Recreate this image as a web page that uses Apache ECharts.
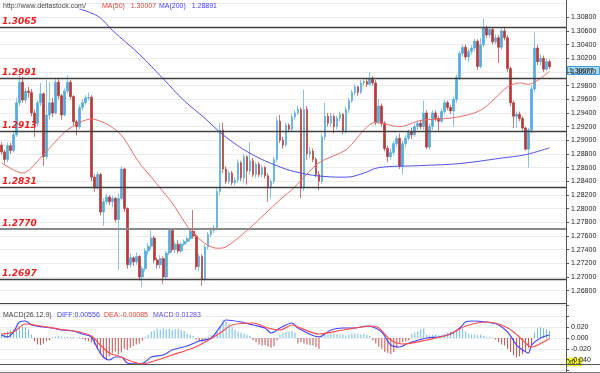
<!DOCTYPE html>
<html><head><meta charset="utf-8">
<script src="https://cdn.jsdelivr.net/npm/echarts@6/dist/echarts.min.js"></script>
<style>html,body{margin:0;padding:0;background:#fff}#c{width:600px;height:373px}</style>
</head><body><div id="c"></div>
<script>
// ---- data ----
const firstOpen = 1.2893;
const closes = [
1.2883,1.2872,1.2892,1.2885,1.2908,1.2955,1.2985,1.2959,1.2972,1.2970,
1.2940,1.2925,1.2955,1.2968,1.2876,1.2937,1.2955,1.2940,1.2985,1.2965,
1.2937,1.2972,1.2985,1.2964,1.2927,1.2920,1.2948,1.2955,1.2962,1.2963,
1.2846,1.2830,1.2850,1.2795,1.2810,1.2817,1.2810,1.2815,1.2784,1.2815,
1.2858,1.2800,1.2718,1.2728,1.2722,1.2730,1.2700,1.2712,1.2738,1.2745,
1.2757,1.2725,1.2718,1.2727,1.2700,1.2735,1.2768,1.2740,1.2748,1.2738,
1.2748,1.2752,1.2756,1.2767,1.2760,1.2715,1.2730,1.2697,1.2744,1.2762,
1.2768,1.2772,1.2825,1.2915,1.2858,1.2840,1.2852,1.2838,1.2842,1.2867,
1.2845,1.2876,1.2855,1.2870,1.2850,1.2865,1.2850,1.2860,1.2848,1.2830,
1.2840,1.2872,1.2928,1.2900,1.2893,1.2922,1.2916,1.2934,1.2940,1.2945,
1.2830,1.2945,1.2880,1.2884,1.2872,1.2850,1.2840,1.2905,1.2935,1.2925,
1.2935,1.2920,1.2932,1.2938,1.2913,1.2945,1.2958,1.2970,1.2978,1.2970,
1.2984,1.2986,1.2982,1.2990,1.2984,1.2927,1.2950,1.2925,1.2888,1.2876,
1.2882,1.2895,1.2903,1.2862,1.2895,1.2903,1.2912,1.2908,1.2920,1.2925,
1.2920,1.2940,1.2890,1.2920,1.2940,1.2932,1.2928,1.2942,1.2955,1.2948,
1.2943,1.2960,1.2992,1.3027,1.3036,1.3022,1.3030,1.3035,1.3045,1.3008,
1.3040,1.3064,1.3054,1.3062,1.3044,1.3050,1.3036,1.3060,1.3050,1.3005,
1.2955,1.2935,1.2938,1.2932,1.2918,1.2887,1.2915,1.2975,1.3035,1.3015,
1.3020,1.3004,1.3015,1.30077];
const highs = [
1.2897,1.2886,1.2897,1.2896,1.2912,1.2962,1.2996,1.2993,1.2976,1.2978,
1.2975,1.2945,1.2958,1.2984,1.2970,1.2988,1.2985,1.2962,1.2990,1.2990,
1.2968,1.2976,1.2995,1.2988,1.2966,1.2930,1.2952,1.2960,1.2966,1.2970,
1.2966,1.2850,1.2854,1.2852,1.2815,1.2822,1.2820,1.2819,1.2817,1.2822,
1.2862,1.2860,1.2802,1.2734,1.2730,1.2736,1.2732,1.2716,1.2742,1.2750,
1.2770,1.2760,1.2728,1.2732,1.2730,1.2738,1.2772,1.2770,1.2752,1.2754,
1.2751,1.2755,1.2759,1.2770,1.2798,1.2763,1.2734,1.2733,1.2748,1.2766,
1.2772,1.2776,1.2830,1.2925,1.2926,1.2862,1.2856,1.2855,1.2846,1.2872,
1.2870,1.2880,1.2878,1.2897,1.2874,1.2868,1.2868,1.2864,1.2862,1.2852,
1.2844,1.2876,1.2935,1.2937,1.2905,1.2926,1.2925,1.2938,1.2944,1.2950,
1.2948,1.2974,1.2950,1.2890,1.2888,1.2875,1.2855,1.2910,1.2955,1.2940,
1.2940,1.2938,1.2936,1.2942,1.2940,1.2949,1.2962,1.2974,1.2982,1.2980,
1.2988,1.2990,1.2990,1.3000,1.2994,1.2988,1.2960,1.2954,1.2928,1.2892,
1.2888,1.2899,1.2907,1.2910,1.2899,1.2908,1.2916,1.2918,1.2924,1.2929,
1.2930,1.2958,1.2944,1.2924,1.2944,1.2944,1.2936,1.2946,1.2959,1.2958,
1.2952,1.2964,1.2996,1.3030,1.3040,1.3040,1.3034,1.3039,1.3049,1.3048,
1.3050,1.3078,1.3068,1.3066,1.3065,1.3055,1.3054,1.3064,1.3066,1.3054,
1.3008,1.2958,1.2942,1.2942,1.2935,1.2920,1.2918,1.2980,1.3058,1.3040,
1.3026,1.3024,1.3020,1.3018];
const lows = [
1.2879,1.2866,1.2868,1.2880,1.2882,1.2905,1.2950,1.2955,1.2954,1.2962,
1.2935,1.2905,1.2920,1.2950,1.2862,1.2872,1.2930,1.2934,1.2938,1.2960,
1.2930,1.2935,1.2968,1.2960,1.2922,1.2907,1.2916,1.2944,1.2952,1.2958,
1.2840,1.2825,1.2828,1.2790,1.2775,1.2806,1.2805,1.2802,1.2780,1.2710,
1.2812,1.2795,1.2712,1.2714,1.2716,1.2718,1.2695,1.2685,1.2708,1.2732,
1.2740,1.2720,1.2712,1.2712,1.2690,1.2696,1.2732,1.2736,1.2735,1.2734,
1.2735,1.2745,1.2749,1.2752,1.2756,1.2710,1.2708,1.2687,1.2694,1.2740,
1.2758,1.2764,1.2768,1.2820,1.2852,1.2836,1.2836,1.2834,1.2834,1.2838,
1.2840,1.2838,1.2835,1.2850,1.2846,1.2845,1.2846,1.2846,1.2844,1.2810,
1.2815,1.2836,1.2868,1.2896,1.2888,1.2890,1.2912,1.2912,1.2930,1.2937,
1.2815,1.2826,1.2872,1.2874,1.2868,1.2846,1.2827,1.2836,1.2900,1.2920,
1.2920,1.2910,1.2916,1.2928,1.2909,1.2910,1.2940,1.2955,1.2966,1.2965,
1.2968,1.2980,1.2978,1.2980,1.2980,1.2922,1.2924,1.2920,1.2884,1.2868,
1.2872,1.2878,1.2890,1.2858,1.2850,1.2890,1.2900,1.2902,1.2905,1.2915,
1.2916,1.2915,1.2887,1.2886,1.2915,1.2928,1.2912,1.2925,1.2938,1.2944,
1.2938,1.2920,1.2955,1.2988,1.3022,1.3018,1.3015,1.3025,1.3030,1.3003,
1.3005,1.3036,1.3050,1.3050,1.3040,1.3040,1.3013,1.3032,1.3046,1.3000,
1.2950,1.2918,1.2918,1.2928,1.2914,1.2885,1.2860,1.2910,1.2970,1.3010,
1.3010,1.3000,1.3002,1.3004];
const levels = [1.3065, 1.2991, 1.2913, 1.2831, 1.2770, 1.2697];
// moving averages read at sample bars: [bar index, value]
const ma50 = [[0,1.2867],[7,1.2852],[14,1.2879],[22,1.2915],[30,1.2931],[39,1.2912],[46,1.2867],[50,1.2846],[57,1.2808],[64,1.2764],[72,1.2742],[75,1.2744],[83,1.2772],[93,1.2813],[98,1.2832],[106,1.2867],[115,1.2886],[125,1.2926],[133,1.2920],[140,1.2929],[151,1.2933],[160,1.2944],[169,1.2978],[173,1.2984],[176,1.2982],[183,1.3001]];
const ma200 = [[26,1.3092],[29,1.3088],[33,1.3079],[37,1.3061],[46,1.3026],[54,1.2990],[61,1.2958],[68,1.2932],[74,1.2908],[83,1.2881],[93,1.2861],[100,1.2852],[108,1.2847],[115,1.2846],[121,1.2852],[126,1.2860],[140,1.2863],[153,1.2866],[167,1.2874],[175,1.2879],[183,1.2889]];
const diffLine = [[0,0.0056],[2,0.0019],[4,0.0111],[6,0.0296],[8,0.0315],[10,0.0241],[14,0.0204],[17,0.0185],[20,0.0148],[24,0.0130],[27,0.0074],[30,0.0019],[32,-0.0185],[34,-0.0352],[36,-0.0407],[38,-0.0352],[40,-0.0352],[42,-0.0463],[46,-0.0481],[48,-0.0444],[50,-0.0352],[54,-0.0315],[57,-0.0222],[62,-0.0148],[66,-0.0056],[70,0.0],[73,0.0204],[75,0.0333],[80,0.0296],[84,0.0241],[88,0.0185],[90,0.0093],[93,0.0185],[97,0.0278],[99,0.0185],[106,0.0019],[110,0.0148],[114,0.0185],[118,0.0185],[122,0.0222],[124,0.0204],[127,0.0111],[130,-0.0130],[133,-0.0167],[136,-0.0093],[142,0.0],[146,0.0019],[150,0.0074],[153,0.0185],[155,0.0296],[157,0.0315],[162,0.0296],[166,0.0241],[169,0.0111],[172,-0.0130],[174,-0.0222],[176,-0.0278],[177,-0.0130],[180,0.0],[183,0.0056]];
const deaLine = [[0,0.0074],[4,0.0111],[8,0.0259],[13,0.0222],[19,0.0167],[26,0.0111],[30,0.0037],[33,-0.0130],[36,-0.0278],[39,-0.0333],[44,-0.0444],[47,-0.0481],[52,-0.0407],[57,-0.0315],[64,-0.0185],[68,-0.0074],[73,0.0093],[77,0.0241],[84,0.0278],[89,0.0185],[93,0.0148],[97,0.0241],[99,0.0204],[106,0.0074],[114,0.0148],[124,0.0222],[126,0.0185],[130,-0.0037],[134,-0.0111],[142,-0.0037],[149,0.0056],[155,0.0222],[162,0.0296],[167,0.0241],[171,0.0111],[175,-0.0093],[177,-0.0167],[181,-0.0074],[183,-0.0009]];
const macdHist = [
0.008,0.010,0.012,0.014,0.016,0.015,0.018,0.021,0.020,0.016,
0.006,-0.006,-0.012,-0.013,-0.010,-0.006,-0.004,0.002,0.003,0.004,
0.003,0.002,0.003,0.002,0.002,0.001,0.002,-0.002,-0.004,-0.006,
-0.008,-0.012,-0.020,-0.030,-0.036,-0.040,-0.034,-0.028,-0.025,-0.030,
-0.027,-0.020,-0.022,-0.018,-0.015,-0.012,-0.010,-0.005,0.002,0.006,
0.012,0.014,0.017,0.015,0.018,0.016,0.017,0.015,0.016,0.017,
0.015,0.013,0.008,0.006,0.004,-0.003,-0.006,-0.007,-0.005,0.003,
0.005,0.006,0.012,0.022,0.034,0.030,0.026,0.020,0.016,0.012,
0.010,0.008,0.006,0.004,-0.004,-0.008,-0.012,-0.014,-0.013,-0.016,
-0.018,-0.015,-0.004,0.006,0.010,0.012,0.012,0.013,0.010,-0.010,
-0.008,-0.010,-0.012,-0.013,-0.014,-0.016,-0.020,0.004,0.006,0.007,
0.008,0.008,0.007,0.006,0.007,0.004,0.006,0.008,0.009,0.008,
0.007,0.008,0.006,0.004,-0.004,-0.010,-0.016,-0.020,-0.026,-0.028,
-0.030,-0.026,-0.018,-0.010,-0.008,-0.006,-0.004,0.008,0.010,0.012,
0.016,0.018,0.006,0.005,0.006,0.007,0.005,0.006,0.008,0.010,
0.012,0.011,0.013,0.016,0.018,0.012,0.008,0.006,0.007,0.005,
0.006,0.004,0.002,0.002,0.001,-0.003,-0.008,-0.012,-0.014,-0.020,
-0.026,-0.032,-0.036,-0.034,-0.030,-0.026,-0.018,-0.012,0.010,0.018,
0.020,0.018,0.016,0.013];
const priceTickStep = 0.002;
const macdTickStep = 0.02;
const padBars = 5;

// ---- build ----
const nBars = closes.length;
const categories = Array.from({length: nBars + padBars}, (_, i) => 'b' + i);
const ohlc = closes.map((c, i) => [i === 0 ? firstOpen : closes[i - 1], c, lows[i], highs[i]]);
const lastClose = closes[nBars - 1];

const UP = '#52ace0', DOWN = '#b53a38';
const FONT = 'Liberation Sans';
const axR = 34;

const chart = echarts.init(document.getElementById('c'), null, {renderer: 'canvas'});
const levelItems = levels.map((v, i) => ({
  yAxis: v,
  lineStyle: i === 4 ? {color: '#8a8a8a', width: 2, type: 'solid'} : {color: '#3f3f3f', width: 1.4, type: 'solid'}
}));

const baseGraphic = [
  {type: 'line', shape: {x1: 566.5, y1: 0, x2: 566.5, y2: 373}, style: {stroke: '#555', lineWidth: 1}, z: 50},
  {type: 'line', shape: {x1: 0, y1: 303.5, x2: 566, y2: 303.5}, style: {stroke: '#444', lineWidth: 1}, z: 50},
  {type: 'line', shape: {x1: 0, y1: 364.5, x2: 600, y2: 364.5}, style: {stroke: '#555', lineWidth: 1}, z: 50},
  {type: 'line', shape: {x1: 0, y1: 372.5, x2: 600, y2: 372.5}, style: {stroke: '#777', lineWidth: 1}, z: 50},
  {type: 'text', x: 3, y: 6, style: {text: 'http://www.deltastock.com/', fill: '#444', fontSize: 7, fontFamily: FONT, verticalAlign: 'middle'}, z: 60},
  {type: 'text', x: 102, y: 6, style: {text: 'MA(50)   1.30007', fill: '#f23a3a', fontSize: 7, fontFamily: FONT, verticalAlign: 'middle'}, z: 60},
  {type: 'text', x: 159, y: 6, style: {text: 'MA(200)   1.28891', fill: '#3d3df0', fontSize: 7, fontFamily: FONT, verticalAlign: 'middle'}, z: 60},
  {type: 'text', x: 3, y: 315, style: {text: 'MACD(26.12.9)', fill: '#444', fontSize: 7, fontFamily: FONT, verticalAlign: 'middle'}, z: 60},
  {type: 'text', x: 57, y: 315, style: {text: 'DIFF:0.00556', fill: '#3d3df0', fontSize: 7, fontFamily: FONT, verticalAlign: 'middle'}, z: 60},
  {type: 'text', x: 104, y: 315, style: {text: 'DEA:-0.00085', fill: '#f23a3a', fontSize: 7, fontFamily: FONT, verticalAlign: 'middle'}, z: 60},
  {type: 'text', x: 153, y: 315, style: {text: 'MACD:0.01283', fill: '#5a4af0', fontSize: 7, fontFamily: FONT, verticalAlign: 'middle'}, z: 60},
  {type: 'group', x: 567, y: 358, z: 70, children: [
    {type: 'rect', shape: {x: 0, y: 0, width: 15, height: 8}, style: {fill: '#ffff20', stroke: '#c8c800', lineWidth: 0.5}},
    {type: 'text', x: 1, y: 4, style: {text: 'x0.1', fill: '#222', fontSize: 7, fontFamily: FONT, verticalAlign: 'middle'}}
  ]}
];

chart.setOption({
  animation: false,
  backgroundColor: '#fff',
  grid: [
    {left: 0, right: axR, top: 3.6, height: 300.7},
    {left: 0, right: axR, top: 305.6, height: 64.8}
  ],
  xAxis: [
    {type: 'category', data: categories, gridIndex: 0, boundaryGap: true, show: false},
    {type: 'category', data: categories, gridIndex: 1, boundaryGap: true, show: false}
  ],
  yAxis: [
    {type: 'value', gridIndex: 0, position: 'right', min: 1.266, max: 1.310, interval: priceTickStep,
     axisLine: {show: false}, axisTick: {show: true, length: 3, lineStyle: {color: '#555'}},
     axisLabel: {fontSize: 7, fontFamily: FONT, color: '#222', margin: 5,
       showMinLabel: false, showMaxLabel: false, formatter: v => v.toFixed(5)},
     splitLine: {show: true, lineStyle: {color: '#ececec', width: 1}}},
    {type: 'value', gridIndex: 1, position: 'right', min: -0.06, max: 0.06, interval: macdTickStep,
     axisLine: {show: false}, axisTick: {show: true, length: 3, lineStyle: {color: '#555'}},
     axisLabel: {fontSize: 7, fontFamily: FONT, color: '#222', margin: 5,
       formatter: v => (v > 0.03 || v < -0.05) ? '' : v.toFixed(3)},
     splitLine: {show: true, lineStyle: {color: '#ececec', width: 1}}}
  ],
  series: [
    {type: 'candlestick', xAxisIndex: 0, yAxisIndex: 0, data: ohlc, barWidth: 2.2,
     itemStyle: {color: UP, color0: DOWN, borderColor: UP, borderColor0: DOWN, borderWidth: 0.7},
     markLine: {silent: true, symbol: ['none', 'none'], animation: false, precision: 5,
       label: {show: true, position: 'insideStartTop', distance: [2, 1],
         formatter: p => Number(p.value).toFixed(4), color: '#f21c1c', fontStyle: 'italic',
         fontWeight: 'bold', fontSize: 9, fontFamily: 'DejaVu Sans'},
       data: levelItems}},
    {type: 'line', xAxisIndex: 0, yAxisIndex: 0, data: ma50, showSymbol: false, smooth: 0.3,
     lineStyle: {color: '#f26a6a', width: 1}, z: 3},
    {type: 'line', xAxisIndex: 0, yAxisIndex: 0, data: ma200, showSymbol: false, smooth: 0.4,
     lineStyle: {color: '#4f4ff0', width: 1}, z: 3},
    {type: 'bar', xAxisIndex: 1, yAxisIndex: 1, data: macdHist, barWidth: 1,
     itemStyle: {color: p => p.value >= 0 ? '#6cbbe2' : '#c0504e'}},
    {type: 'line', xAxisIndex: 1, yAxisIndex: 1, data: diffLine, showSymbol: false, smooth: 0.3,
     lineStyle: {color: '#4646ff', width: 1.2}, z: 4},
    {type: 'line', xAxisIndex: 1, yAxisIndex: 1, data: deaLine, showSymbol: false, smooth: 0.3,
     lineStyle: {color: '#ff4a4a', width: 1.2}, z: 4}
  ],
  graphic: baseGraphic
});

// current-price tag on the price axis, placed through the axis scale
const tagY = chart.convertToPixel({yAxisIndex: 0}, lastClose);
chart.setOption({graphic: baseGraphic.concat([
  {type: 'group', x: 567.5, y: Math.round(tagY) - 0.5, z: 80, children: [
    {type: 'rect', shape: {x: 0, y: 0, width: 32, height: 8}, style: {fill: '#a9dcf6', stroke: '#3c9cd8', lineWidth: 1}},
    {type: 'text', x: 1.5, y: 4.3, style: {text: lastClose.toFixed(5), fill: '#111', fontSize: 6.8, fontFamily: FONT, verticalAlign: 'middle'}}
  ]}
])});
</script></body></html>
